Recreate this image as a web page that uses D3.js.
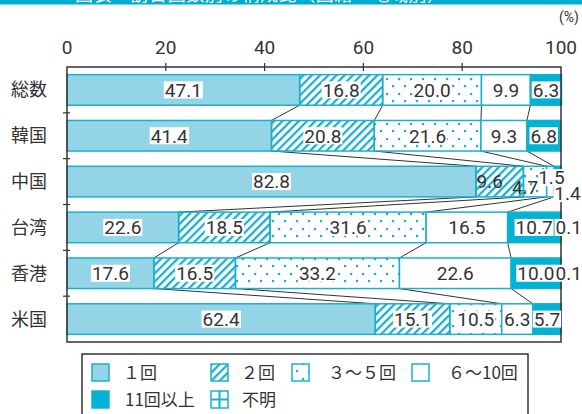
<!DOCTYPE html>
<html>
<head>
<meta charset="utf-8">
<script src="https://cdn.jsdelivr.net/npm/d3@7"></script>
<style>
  html, body { margin: 0; padding: 0; background: #fff; }
  svg { display: block; }
  .num { font-family: "Liberation Sans Narrow", "Roboto", sans-serif; }
  .jp { font-family: "Noto Sans CJK JP", sans-serif; }
</style>
</head>
<body>
<div id="chart"></div>
<script>
const categories = ['総数', '韓国', '中国', '台湾', '香港', '米国'];
const seriesNames = ['１回', '２回', '３～５回', '６～10回', '11回以上', '不明'];
const once     = [47.1, 41.4, 82.8, 22.6, 17.6, 62.4];
const twice    = [16.8, 20.8,  9.6, 18.5, 16.5, 15.1];
const three5   = [20.0, 21.6,  4.7, 31.6, 33.2, 10.5];
const six10    = [ 9.9,  9.3,  1.5, 16.5, 22.6,  6.3];
const eleven   = [ 6.3,  6.8,  1.4, 10.7, 10.0,  5.7];
const unknown  = [ 0,    0,    0,    0.1,  0.1,  0  ];
const xTicks = [0, 20, 40, 60, 80, 100];

const width = 582, height = 414;
const cyan = '#1ab0cd';
const dark = '#333';

const svg = d3.select('#chart').append('svg')
  .attr('width', width)
  .attr('height', height);

// patterns
const defs = svg.append('defs');
defs.append('pattern')
  .attr('id', 'hatch')
  .attr('patternUnits', 'userSpaceOnUse')
  .attr('width', 5.8).attr('height', 5.8)
  .attr('patternTransform', 'rotate(45)')
  .append('rect')
  .attr('x', 0).attr('y', 0)
  .attr('width', 2.3).attr('height', 5.8)
  .attr('fill', cyan);

const dots = defs.append('pattern')
  .attr('id', 'dots')
  .attr('patternUnits', 'userSpaceOnUse')
  .attr('width', 12).attr('height', 15);
dots.append('rect').attr('x', 2).attr('y', 3).attr('width', 2.2).attr('height', 2.2).attr('fill', cyan);
dots.append('rect').attr('x', 8).attr('y', 10).attr('width', 2.2).attr('height', 2.2).attr('fill', cyan);

const fills = ['#93d5e6', 'url(#hatch)', 'url(#dots)', '#fff', '#00b2d3', '#fff'];

// top banner (title cut off by the crop)
svg.append('rect')
  .attr('x', 0).attr('y', 0)
  .attr('width', width).attr('height', 4.5)
  .attr('fill', '#00acd0');
svg.append('text')
  .attr('class', 'jp')
  .attr('x', 75).attr('y', 0.5)
  .attr('fill', '#fff')
  .attr('font-size', 18)
  .attr('textLength', 370)
  .text('図表　訪日回数別の構成比（国籍・地域別）');

const x = d3.scaleLinear().domain([0, 100]).range([67, 561]);
const y = d3.scaleBand().domain(categories).range([67, 342]).paddingInner(0.333).paddingOuter(0.1665);

const series = [once, twice, three5, six10, eleven, unknown];
const rows = categories.map((c, i) => {
  let acc = 0;
  const segs = series.map((s, k) => {
    const s0 = acc;
    acc += s[i];
    return { cat: c, row: i, k: k, v: s[i], x0: s0, x1: acc };
  });
  return { cat: c, segs: segs };
});

// connector lines between bars
const links = [];
for (let i = 0; i < rows.length - 1; i++) {
  for (let k = 0; k < 4; k++) {
    links.push({
      a: rows[i].segs[k].x1,
      b: rows[i + 1].segs[k].x1,
      ya: y(rows[i].cat) + y.bandwidth(),
      yb: y(rows[i + 1].cat)
    });
  }
}
svg.append('g')
  .selectAll('line')
  .data(links)
  .enter()
  .append('line')
  .attr('x1', d => x(d.a)).attr('y1', d => d.ya)
  .attr('x2', d => x(d.b)).attr('y2', d => d.yb)
  .attr('stroke', dark)
  .attr('stroke-width', 1);

// bars
const allSegs = rows.flatMap(r => r.segs).filter(d => d.v > 0);
svg.append('g')
  .selectAll('rect')
  .data(allSegs)
  .enter()
  .append('rect')
  .attr('x', d => x(d.x0))
  .attr('y', d => y(d.cat))
  .attr('width', d => x(d.x1) - x(d.x0))
  .attr('height', y.bandwidth())
  .attr('fill', d => fills[d.k])
  .attr('stroke', cyan)
  .attr('stroke-width', 1.5);

// frame
svg.append('rect')
  .attr('x', x(0)).attr('y', 67)
  .attr('width', x(100) - x(0)).attr('height', 342 - 67)
  .attr('fill', 'none')
  .attr('stroke', dark)
  .attr('stroke-width', 1.5);

// top ticks
svg.append('g')
  .selectAll('line')
  .data(xTicks.slice(1, -1))
  .enter()
  .append('line')
  .attr('x1', d => x(d)).attr('x2', d => x(d))
  .attr('y1', 63).attr('y2', 71)
  .attr('stroke', dark).attr('stroke-width', 1.2);

svg.append('g')
  .selectAll('text')
  .data(xTicks)
  .enter()
  .append('text')
  .attr('class', 'num')
  .attr('x', d => x(d))
  .attr('y', 54)
  .attr('text-anchor', 'middle')
  .attr('font-size', 19)
  .attr('fill', dark)
  .text(d => d);

svg.append('text')
  .attr('class', 'num')
  .attr('x', 579).attr('y', 22)
  .attr('text-anchor', 'end')
  .attr('font-size', 14)
  .attr('fill', dark)
  .text('(%)');

// left ticks at band boundaries
const bounds = categories.slice(1).map(c => y(c) - y.step() * y.paddingInner() / 2);
svg.append('g')
  .selectAll('line')
  .data(bounds)
  .enter()
  .append('line')
  .attr('x1', x(0) - 4).attr('x2', x(0) + 3)
  .attr('y1', d => d).attr('y2', d => d)
  .attr('stroke', dark).attr('stroke-width', 1.2);

// category labels
svg.append('g')
  .selectAll('text')
  .data(categories)
  .enter()
  .append('text')
  .attr('class', 'jp')
  .attr('x', 11)
  .attr('y', d => y(d) + y.bandwidth() / 2)
  .attr('dy', '0.36em')
  .attr('font-size', 18)
  .attr('fill', dark)
  .text(d => d);

// value labels; small segments nudged outside the bar
const nudge = {
  '中国-1': [-10, 0],
  '中国-2': [-10, 6],
  '中国-3': [1, -4],
  '中国-4': [10, 12],
  '台湾-5': [8, 0],
  '香港-5': [8, 0]
};
const labels = allSegs.map(d => {
  const n = nudge[d.cat + '-' + d.k] || [0, 0];
  return {
    text: d.v.toFixed(1),
    cx: (x(d.x0) + x(d.x1)) / 2 + n[0],
    cy: y(d.cat) + y.bandwidth() / 2 + n[1],
    pad: (d.cat === '中国' && d.k === 3) ? -1 : 1,
    bg: !(d.cat === '中国' && (d.k === 1 || d.k === 2))
  };
});
const lg = svg.append('g')
  .selectAll('g')
  .data(labels)
  .enter()
  .append('g');
lg.append('rect').attr('class', 'bg');
lg.append('text')
  .attr('class', 'num')
  .attr('x', d => d.cx)
  .attr('y', d => d.cy)
  .attr('dy', '0.36em')
  .attr('text-anchor', 'middle')
  .attr('font-size', 19)
  .attr('fill', dark)
  .text(d => d.text);
lg.each(function(d) {
  const g = d3.select(this);
  const bb = g.select('text').node().getBBox();
  g.select('rect.bg')
    .attr('x', bb.x - d.pad).attr('y', d.cy - 8.5)
    .attr('width', bb.width + 2 * d.pad).attr('height', 17)
    .attr('fill', d.bg ? '#fff' : 'none');
});

// legend
svg.append('rect')
  .attr('x', 82).attr('y', 354)
  .attr('width', 446).attr('height', 80)
  .attr('fill', '#fff')
  .attr('stroke', dark)
  .attr('stroke-width', 1.5);

const legendPos = [[92, 364], [211, 364], [292, 364], [412, 364], [92, 391], [211, 391]];
const legendText = [128, 246, 328, 448, 125, 242];
const leg = svg.append('g')
  .selectAll('g')
  .data(seriesNames)
  .enter()
  .append('g');
leg.append('rect')
  .attr('x', (d, i) => legendPos[i][0])
  .attr('y', (d, i) => legendPos[i][1])
  .attr('width', 17).attr('height', 17)
  .attr('fill', (d, i) => fills[i])
  .attr('stroke', cyan)
  .attr('stroke-width', 1.5);
leg.filter((d, i) => i === 5)
  .append('path')
  .attr('d', () => {
    const [lx, ly] = legendPos[5];
    return 'M' + (lx + 8.5) + ',' + ly + 'V' + (ly + 17) + 'M' + lx + ',' + (ly + 8.5) + 'H' + (lx + 17);
  })
  .attr('stroke', cyan)
  .attr('stroke-width', 2);
leg.append('text')
  .attr('class', 'jp')
  .attr('x', (d, i) => legendText[i] - (i === 0 || i === 1 ? 5 : 0))
  .attr('y', (d, i) => legendPos[i][1] + 8.5)
  .attr('dy', '0.36em')
  .attr('font-size', 17)
  .attr('fill', dark)
  .text(d => d);
</script>
</body>
</html>
